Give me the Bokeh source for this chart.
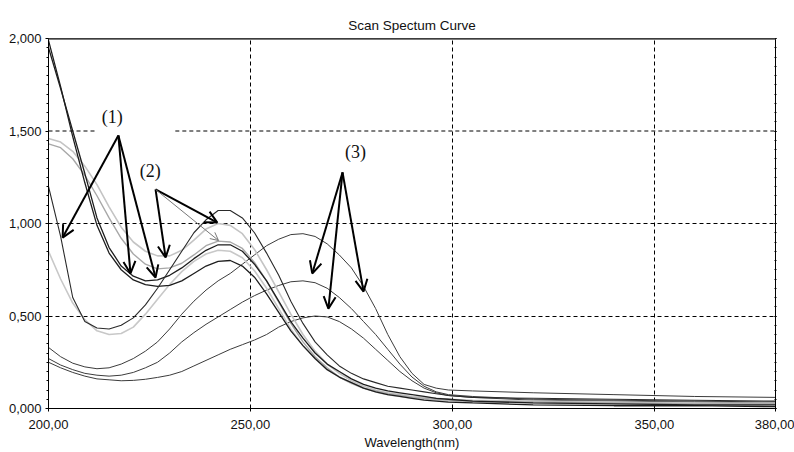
from bokeh.plotting import figure
from bokeh.models import (FixedTicker, Arrow, OpenHead, ColumnDataSource, LinearAxis, Span)
from bokeh.embed import file_html
from bokeh.resources import INLINE
from bokeh.core.properties import value

# ---------------- data ----------------
WL = [200, 203, 206, 209, 212, 215, 218, 221, 224, 227, 230, 233, 236, 239, 242, 245, 248,
      251, 254, 257, 260, 263, 266, 269, 272, 275, 278, 281, 284, 287, 290, 293, 296, 299,
      305, 320, 340, 360, 380]

K1 = [1.20, 0.93, 0.60, 0.47, 0.435, 0.43, 0.45, 0.49, 0.56, 0.65, 0.75, 0.85, 0.95, 1.02, 1.07, 1.07, 1.03,
      0.95, 0.84, 0.72, 0.58, 0.46, 0.36, 0.29, 0.23, 0.19, 0.16, 0.14, 0.12, 0.11, 0.10, 0.09, 0.08, 0.07,
      0.06, 0.055, 0.05, 0.045, 0.04]
K2 = [1.95, 1.73, 1.50, 1.27, 1.03, 0.87, 0.77, 0.715, 0.69, 0.695, 0.72, 0.76, 0.81, 0.855, 0.885, 0.885, 0.85,
      0.78, 0.69, 0.58, 0.47, 0.38, 0.30, 0.24, 0.20, 0.16, 0.13, 0.11, 0.095, 0.085, 0.075, 0.065, 0.055, 0.05,
      0.04, 0.03, 0.025, 0.02, 0.02]
K3 = [1.99, 1.74, 1.47, 1.22, 0.99, 0.84, 0.75, 0.695, 0.67, 0.66, 0.665, 0.69, 0.73, 0.77, 0.795, 0.80, 0.77,
      0.71, 0.62, 0.52, 0.42, 0.34, 0.27, 0.21, 0.17, 0.14, 0.11, 0.09, 0.075, 0.065, 0.055, 0.045, 0.04, 0.035,
      0.03, 0.02, 0.015, 0.015, 0.01]
G1 = [1.46, 1.44, 1.39, 1.31, 1.21, 1.09, 0.98, 0.90, 0.85, 0.825, 0.825, 0.855, 0.91, 0.97, 1.00, 0.99, 0.945,
      0.86, 0.75, 0.63, 0.51, 0.40, 0.31, 0.24, 0.19, 0.15, 0.12, 0.10, 0.085, 0.075, 0.065, 0.06, 0.055, 0.05,
      0.045, 0.04, 0.035, 0.03, 0.03]
G2 = [1.43, 1.41, 1.35, 1.26, 1.15, 1.03, 0.92, 0.835, 0.78, 0.755, 0.76, 0.785, 0.83, 0.88, 0.905, 0.90, 0.865,
      0.79, 0.69, 0.575, 0.46, 0.36, 0.28, 0.22, 0.17, 0.14, 0.11, 0.095, 0.08, 0.07, 0.06, 0.055, 0.05, 0.045,
      0.04, 0.035, 0.03, 0.025, 0.025]
G3 = [0.85, 0.70, 0.57, 0.48, 0.42, 0.40, 0.405, 0.44, 0.51, 0.59, 0.67, 0.74, 0.795, 0.835, 0.855, 0.85, 0.815,
      0.745, 0.65, 0.54, 0.43, 0.34, 0.27, 0.21, 0.17, 0.135, 0.11, 0.09, 0.075, 0.065, 0.055, 0.05, 0.045, 0.04,
      0.035, 0.03, 0.025, 0.02, 0.02]
S3A = [0.33, 0.28, 0.245, 0.225, 0.215, 0.22, 0.24, 0.27, 0.31, 0.36, 0.43, 0.51, 0.58, 0.64, 0.69, 0.73, 0.78,
       0.83, 0.88, 0.915, 0.94, 0.945, 0.93, 0.89, 0.83, 0.76, 0.66, 0.54, 0.40, 0.28, 0.19, 0.13, 0.11, 0.10,
       0.095, 0.085, 0.075, 0.065, 0.06]
S3B = [0.27, 0.235, 0.21, 0.19, 0.18, 0.175, 0.18, 0.195, 0.22, 0.25, 0.30, 0.36, 0.41, 0.455, 0.495, 0.535, 0.575,
       0.61, 0.64, 0.665, 0.685, 0.69, 0.68, 0.65, 0.60, 0.54, 0.47, 0.40, 0.32, 0.24, 0.17, 0.12, 0.09, 0.075,
       0.065, 0.05, 0.045, 0.04, 0.035]
S3C = [0.25, 0.22, 0.195, 0.175, 0.16, 0.155, 0.15, 0.152, 0.158, 0.168, 0.18, 0.20, 0.23, 0.26, 0.29, 0.32, 0.345,
       0.37, 0.40, 0.44, 0.47, 0.49, 0.50, 0.495, 0.47, 0.43, 0.38, 0.32, 0.26, 0.20, 0.15, 0.11, 0.085, 0.07,
       0.06, 0.045, 0.04, 0.035, 0.03]

X_TICKS = [200, 250, 300, 350, 380]
X_LABELS = ["200,00", "250,00", "300,00", "350,00", "380,00"]
Y_TICKS = [0, 0.5, 1.0, 1.5, 2.0]
Y_LABELS = ["0,000", "0,500", "1,000", "1,500", "2,000"]
Y_MINOR = [i * 0.05 for i in range(41)]

# annotations (data coordinates)
LBL_TEXT = ["(1)", "(2)", "(3)"]
LBL_X = [215.8, 225.2, 276.0]
LBL_Y = [1.573, 1.286, 1.384]

ARR_X0 = [217.3, 217.3, 217.3, 226.5, 226.5, 272.8, 272.8, 272.8]
ARR_Y0 = [1.476, 1.476, 1.476, 1.184, 1.184, 1.276, 1.276, 1.276]
ARR_X1 = [203.5, 220.3, 226.5, 229.0, 241.8, 265.3, 269.3, 278.0]
ARR_Y1 = [0.924, 0.730, 0.708, 0.816, 1.005, 0.730, 0.540, 0.632]

THIN_X0 = [226.5]
THIN_Y0 = [1.184]
THIN_X1 = [242.1]
THIN_Y1 = [0.908]

GRID15_X0 = [200, 231.4]
GRID15_X1 = [212.1, 380]
GRID15_Y = [1.5, 1.5]

# ---------------- figure ----------------
FONT = "Liberation Sans"
TXT = "#111111"

p = figure(width=794, height=452, output_backend="svg", toolbar_location=None,
           x_range=(200, 380), y_range=(0, 2),
           min_border_left=48, min_border_right=19, min_border_top=38, min_border_bottom=44)
p.background_fill_color = "white"
p.outline_line_color = "black"
p.outline_line_width = 1

p.title.text = "Scan Spectum Curve"
p.title.align = "center"
p.title.text_font = FONT
p.title.text_font_style = "normal"
p.title.text_font_size = "13.5px"
p.title.text_color = TXT
p.title.standoff = 12

# axes
xa = p.xaxis[0]
xa.ticker = FixedTicker(ticks=X_TICKS)
xa.major_label_overrides = {t: l for t, l in zip(X_TICKS, X_LABELS)}
xa.axis_label = "Wavelength(nm)"
xa.axis_label_text_font = FONT
xa.axis_label_text_font_style = "normal"
xa.axis_label_text_font_size = "13px"
xa.axis_label_text_color = TXT
xa.axis_label_standoff = 3
xa.major_label_text_font = FONT
xa.major_label_text_font_size = "13px"
xa.major_label_text_color = TXT
xa.major_label_standoff = 8
xa.major_tick_out = 3
xa.major_tick_in = 0
xa.minor_tick_out = 0
xa.axis_line_color = "black"

ya = p.yaxis[0]
ya.ticker = FixedTicker(ticks=Y_TICKS, minor_ticks=Y_MINOR)
ya.major_label_overrides = {t: l for t, l in zip(Y_TICKS, Y_LABELS)}
ya.major_label_text_font = FONT
ya.major_label_text_font_size = "13px"
ya.major_label_text_color = TXT
ya.major_label_standoff = 4
ya.major_tick_out = 3
ya.major_tick_in = 0
ya.minor_tick_out = 2
ya.minor_tick_in = 0
ya.axis_line_color = "black"

ra = LinearAxis(ticker=FixedTicker(ticks=Y_TICKS, minor_ticks=Y_MINOR),
                major_label_overrides={t: "" for t in Y_TICKS},
                major_label_standoff=0, major_tick_out=1, major_tick_in=1,
                minor_tick_out=1, minor_tick_in=1, axis_line_color="black",
                major_label_text_font_size="1px")
p.add_layout(ra, "right")

# grid
p.xgrid.ticker = FixedTicker(ticks=[250, 300, 350])
p.xgrid.grid_line_color = "black"
p.xgrid.grid_line_dash = "4 3"
p.xgrid.grid_line_width = 1
p.ygrid.ticker = FixedTicker(ticks=[0.5, 1.0])
p.ygrid.grid_line_color = "black"
p.ygrid.grid_line_dash = "4 3"
p.ygrid.grid_line_width = 1
p.segment(x0=GRID15_X0, x1=GRID15_X1, y0=GRID15_Y, y1=GRID15_Y,
          line_color="black", line_dash="4 3", line_width=1)

p.add_layout(Span(location=2.0, dimension="width", line_color="#7a7a7a", line_width=3))

# curves
curves = [
    (S3A, "#3c3c3c", 1.0),
    (S3B, "#3c3c3c", 1.0),
    (S3C, "#3c3c3c", 1.0),
    (G1, "#c4c4c4", 1.6),
    (G3, "#c8c8c8", 1.6),
    (G2, "#a8a8a8", 1.4),
    (K3, "#1e1e1e", 1.3),
    (K2, "#1e1e1e", 1.3),
    (K1, "#2a2a2a", 1.1),
]
for ys, col, lw in curves:
    p.line(WL, ys, line_color=col, line_width=lw)

# arrows
arr_src = ColumnDataSource(dict(x0=ARR_X0, y0=ARR_Y0, x1=ARR_X1, y1=ARR_Y1))
p.add_layout(Arrow(end=OpenHead(size=12, line_width=2, line_color="black"),
                   x_start="x0", y_start="y0", x_end="x1", y_end="y1",
                   source=arr_src, line_width=2, line_color="black"))
thin_src = ColumnDataSource(dict(x0=THIN_X0, y0=THIN_Y0, x1=THIN_X1, y1=THIN_Y1))
p.add_layout(Arrow(end=OpenHead(size=8, line_width=1, line_color="#777777"),
                   x_start="x0", y_start="y0", x_end="x1", y_end="y1",
                   source=thin_src, line_width=1, line_color="#777777"))

lbl_src = ColumnDataSource(dict(x=LBL_X, y=LBL_Y, t=LBL_TEXT))
p.text(x="x", y="y", text="t", source=lbl_src, text_font=value("Liberation Serif"),
       text_font_size="18px", text_align="center", text_baseline="middle", text_color="#111111")

open("out.html", "w").write(file_html(p, INLINE))
